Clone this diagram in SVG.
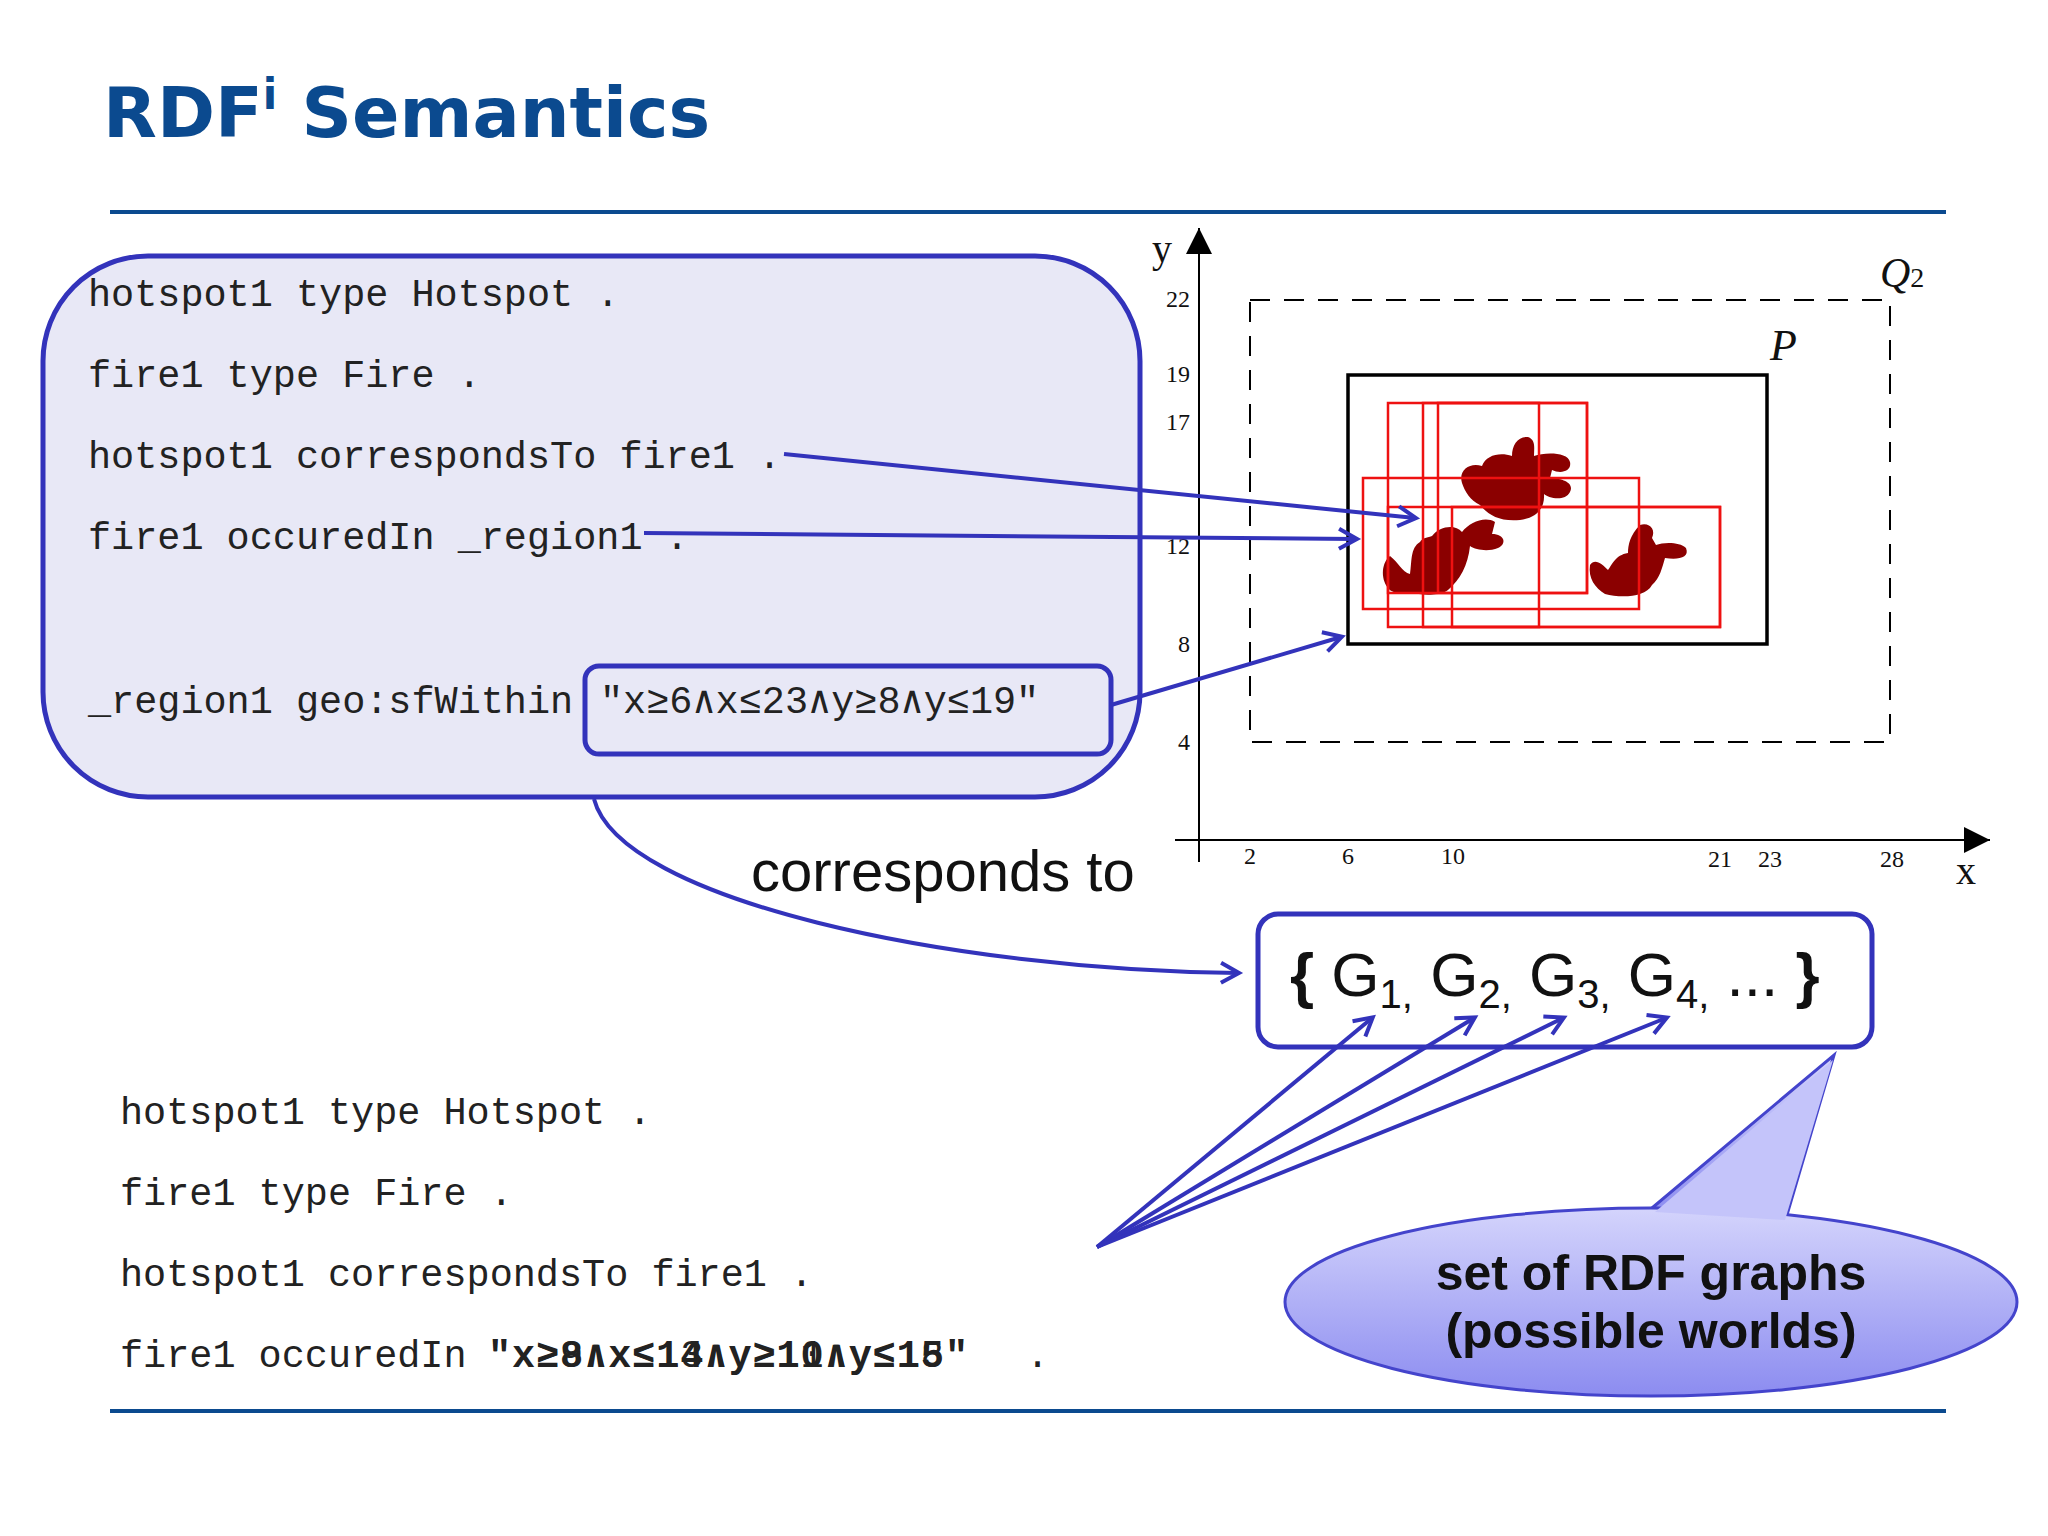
<svg xmlns="http://www.w3.org/2000/svg" width="2048" height="1536" viewBox="0 0 2048 1536">
<defs>
<style>
.m{font-family:"Liberation Mono","DejaVu Sans Mono",monospace;font-size:38.5px;fill:#222}
.s{font-family:"Liberation Sans",Arial,sans-serif}
.tk{font-family:"Liberation Serif","DejaVu Serif",serif;fill:#111}
.bl{stroke:#3333bb;stroke-width:4;fill:none}
.rr{fill:none;stroke:#ee1111;stroke-width:2.5}
.fire{fill:#8b0000}
</style>
<marker id="ah" viewBox="0 0 10 10" refX="9" refY="5" markerWidth="10" markerHeight="10" orient="auto" markerUnits="userSpaceOnUse" style="overflow:visible">
<path d="M-8,-5 L10,5 L-8,15" fill="none" stroke="#3333bb" stroke-width="4"/>
</marker>
<marker id="bk" viewBox="0 0 10 10" refX="10" refY="5" markerWidth="30" markerHeight="26" orient="auto" markerUnits="userSpaceOnUse">
<path d="M0,0 L10,5 L0,10 Z" fill="#000"/>
</marker>
<linearGradient id="cg" x1="0" y1="0" x2="0" y2="1">
<stop offset="0" stop-color="#d4d4fc"/><stop offset="1" stop-color="#8c8cf0"/>
</linearGradient>
</defs>
<rect width="2048" height="1536" fill="#fff"/>
<text x="103" y="137" font-family="DejaVu Sans,Verdana,sans-serif" font-size="70" font-weight="bold" fill="#0b4a8f">RDF<tspan font-size="42" dy="-28">i</tspan><tspan dy="28"> Semantics</tspan></text>
<line x1="110" y1="212" x2="1946" y2="212" stroke="#0b4a8f" stroke-width="4"/>
<line x1="110" y1="1411" x2="1946" y2="1411" stroke="#0b4a8f" stroke-width="4"/>

<g id="plot">
<line x1="1199" y1="862" x2="1199" y2="228" stroke="#000" stroke-width="2" marker-end="url(#bk)"/>
<line x1="1175" y1="840" x2="1990" y2="840" stroke="#000" stroke-width="2" marker-end="url(#bk)"/>
<text class="tk" x="1152" y="262" font-size="40">y</text>
<text class="tk" x="1956" y="884" font-size="40">x</text>
<g text-anchor="end" font-size="24">
<text class="tk" x="1190" y="307">22</text><text class="tk" x="1190" y="382">19</text><text class="tk" x="1190" y="430">17</text>
<text class="tk" x="1190" y="554">12</text><text class="tk" x="1190" y="652">8</text><text class="tk" x="1190" y="750">4</text>
</g>
<g text-anchor="middle" font-size="24">
<text class="tk" x="1250" y="864">2</text><text class="tk" x="1348" y="864">6</text><text class="tk" x="1453" y="864">10</text>
<text class="tk" x="1720" y="867">21</text><text class="tk" x="1770" y="867">23</text><text class="tk" x="1892" y="867">28</text>
</g>
<rect x="1250" y="300" width="640" height="442" fill="none" stroke="#000" stroke-width="2" stroke-dasharray="20,14"/>
<text class="tk" x="1880" y="287" font-size="42" font-style="italic">Q<tspan font-size="28" font-style="normal">2</tspan></text>
<text class="tk" x="1770" y="360" font-size="44" font-style="italic">P</text>
<rect x="1348" y="375" width="419" height="269" fill="none" stroke="#000" stroke-width="3.5"/>
<path class="fire" d="M1462,483 C1458,470 1470,462 1482,466 C1486,455 1500,452 1512,456 C1512,445 1518,436 1528,437 C1536,440 1534,448 1534,456 C1545,452 1568,452 1570,462 C1572,472 1560,474 1552,470 L1550,478 C1560,478 1575,482 1570,492 C1565,502 1548,498 1544,494 C1545,510 1535,518 1520,520 C1500,522 1488,515 1480,505 C1470,500 1465,492 1462,483 Z"/>
<path class="fire" d="M1432,536 C1440,526 1455,524 1462,532 C1470,522 1485,516 1495,522 L1492,534 C1505,534 1507,544 1498,548 C1488,552 1476,550 1470,546 C1468,565 1460,580 1448,590 C1440,596 1420,596 1412,592 C1404,594 1392,594 1388,588 C1380,578 1382,562 1390,556 C1398,562 1402,572 1410,574 C1412,562 1410,548 1420,542 C1422,538 1426,538 1432,536 Z"/>
<path class="fire" d="M1590,565 C1595,558 1602,564 1608,570 C1612,565 1615,555 1628,553 C1628,545 1630,535 1640,525 C1650,522 1656,530 1652,538 L1656,545 C1664,542 1680,542 1686,548 C1690,558 1678,560 1665,558 C1662,568 1660,578 1652,585 C1645,598 1620,598 1605,594 C1595,588 1588,578 1590,565 Z"/>
<rect class="rr" x="1388" y="403" width="199" height="190"/>
<rect class="rr" x="1423" y="403" width="116" height="224"/>
<rect class="rr" x="1438" y="403" width="149" height="190"/>
<rect class="rr" x="1363" y="478" width="276" height="131"/>
<rect class="rr" x="1388" y="507" width="332" height="120"/>
<rect class="rr" x="1452" y="507" width="268" height="120"/>
</g>

<g id="top-box">
<rect x="43" y="256" width="1097" height="541" rx="105" fill="#e8e8f6" stroke="#3333bb" stroke-width="5"/>
<text class="m" x="88" y="306">hotspot1 type Hotspot .</text>
<text class="m" x="88" y="387">fire1 type Fire .</text>
<text class="m" x="88" y="468">hotspot1 correspondsTo fire1 .</text>
<text class="m" x="88" y="549">fire1 occuredIn _region1 .</text>
<text class="m" x="88" y="713">_region1 geo:sfWithin</text>
</g>
<g id="literal-box">
<rect x="585" y="666" width="526" height="88" rx="14" fill="#e8e8f6" stroke="#3333bb" stroke-width="5"/>
<text class="m" x="600" y="713">"x≥6∧x≤23∧y≥8∧y≤19"</text>
</g>
<g id="graphs-box">
<rect x="1258" y="914" width="614" height="133" rx="20" fill="#fff" stroke="#3333bb" stroke-width="5"/>
<text class="s" x="1290" y="996" font-size="62" fill="#111"><tspan font-weight="bold">{</tspan> G<tspan font-size="40" dy="12">1,</tspan><tspan dy="-12"> G</tspan><tspan font-size="40" dy="12">2,</tspan><tspan dy="-12"> G</tspan><tspan font-size="40" dy="12">3,</tspan><tspan dy="-12"> G</tspan><tspan font-size="40" dy="12">4,</tspan><tspan dy="-12"> ... </tspan><tspan font-weight="bold">}</tspan></text>
</g>
<g id="callout">
<path d="M1652,1208 L1834,1055 L1787,1215 Z" fill="url(#cg)" stroke="#4444cc" stroke-width="3"/>
<ellipse cx="1651" cy="1302" rx="366" ry="94" fill="url(#cg)" stroke="#4444cc" stroke-width="3"/>
<path d="M1655,1212 L1833,1060 L1785,1220" fill="#c4c4fa"/>
<text class="s" x="1651" y="1290" font-size="50" font-weight="bold" text-anchor="middle" fill="#111">set of RDF graphs</text>
<text class="s" x="1651" y="1348" font-size="50" font-weight="bold" text-anchor="middle" fill="#111">(possible worlds)</text>
</g>
<g id="bottom-text">
<text class="m" x="120" y="1124">hotspot1 type Hotspot .</text>
<text class="m" x="120" y="1205">fire1 type Fire .</text>
<text class="m" x="120" y="1286">hotspot1 correspondsTo fire1 .</text>
<text class="m" x="120" y="1367">fire1 occuredIn</text>
<text class="m" x="488" y="1367" font-weight="bold" textLength="480">"x≥8∧x≤14∧y≥10∧y≤15"</text>
<text class="m" x="488" y="1367" textLength="480">"x≥9∧x≤13∧y≥11∧y≤18"</text>
<text class="m" x="1026" y="1367">.</text>
</g>
<text class="s" x="751" y="891" font-size="58" fill="#111">corresponds to</text>

<g id="connectors">
<path class="bl" d="M784,454 L1415,518" marker-end="url(#ah)"/>
<path class="bl" d="M644,533 L1356,539" marker-end="url(#ah)"/>
<path class="bl" d="M1111,705 L1341,637" marker-end="url(#ah)"/>
<path class="bl" d="M594,799 C620,900 950,970 1238,973" marker-end="url(#ah)"/>
<path class="bl" d="M1097,1247 L1372,1018" marker-end="url(#ah)"/>
<path class="bl" d="M1097,1247 L1474,1018" marker-end="url(#ah)"/>
<path class="bl" d="M1097,1247 L1563,1018" marker-end="url(#ah)"/>
<path class="bl" d="M1097,1247 L1666,1018" marker-end="url(#ah)"/>
</g>
</svg>
